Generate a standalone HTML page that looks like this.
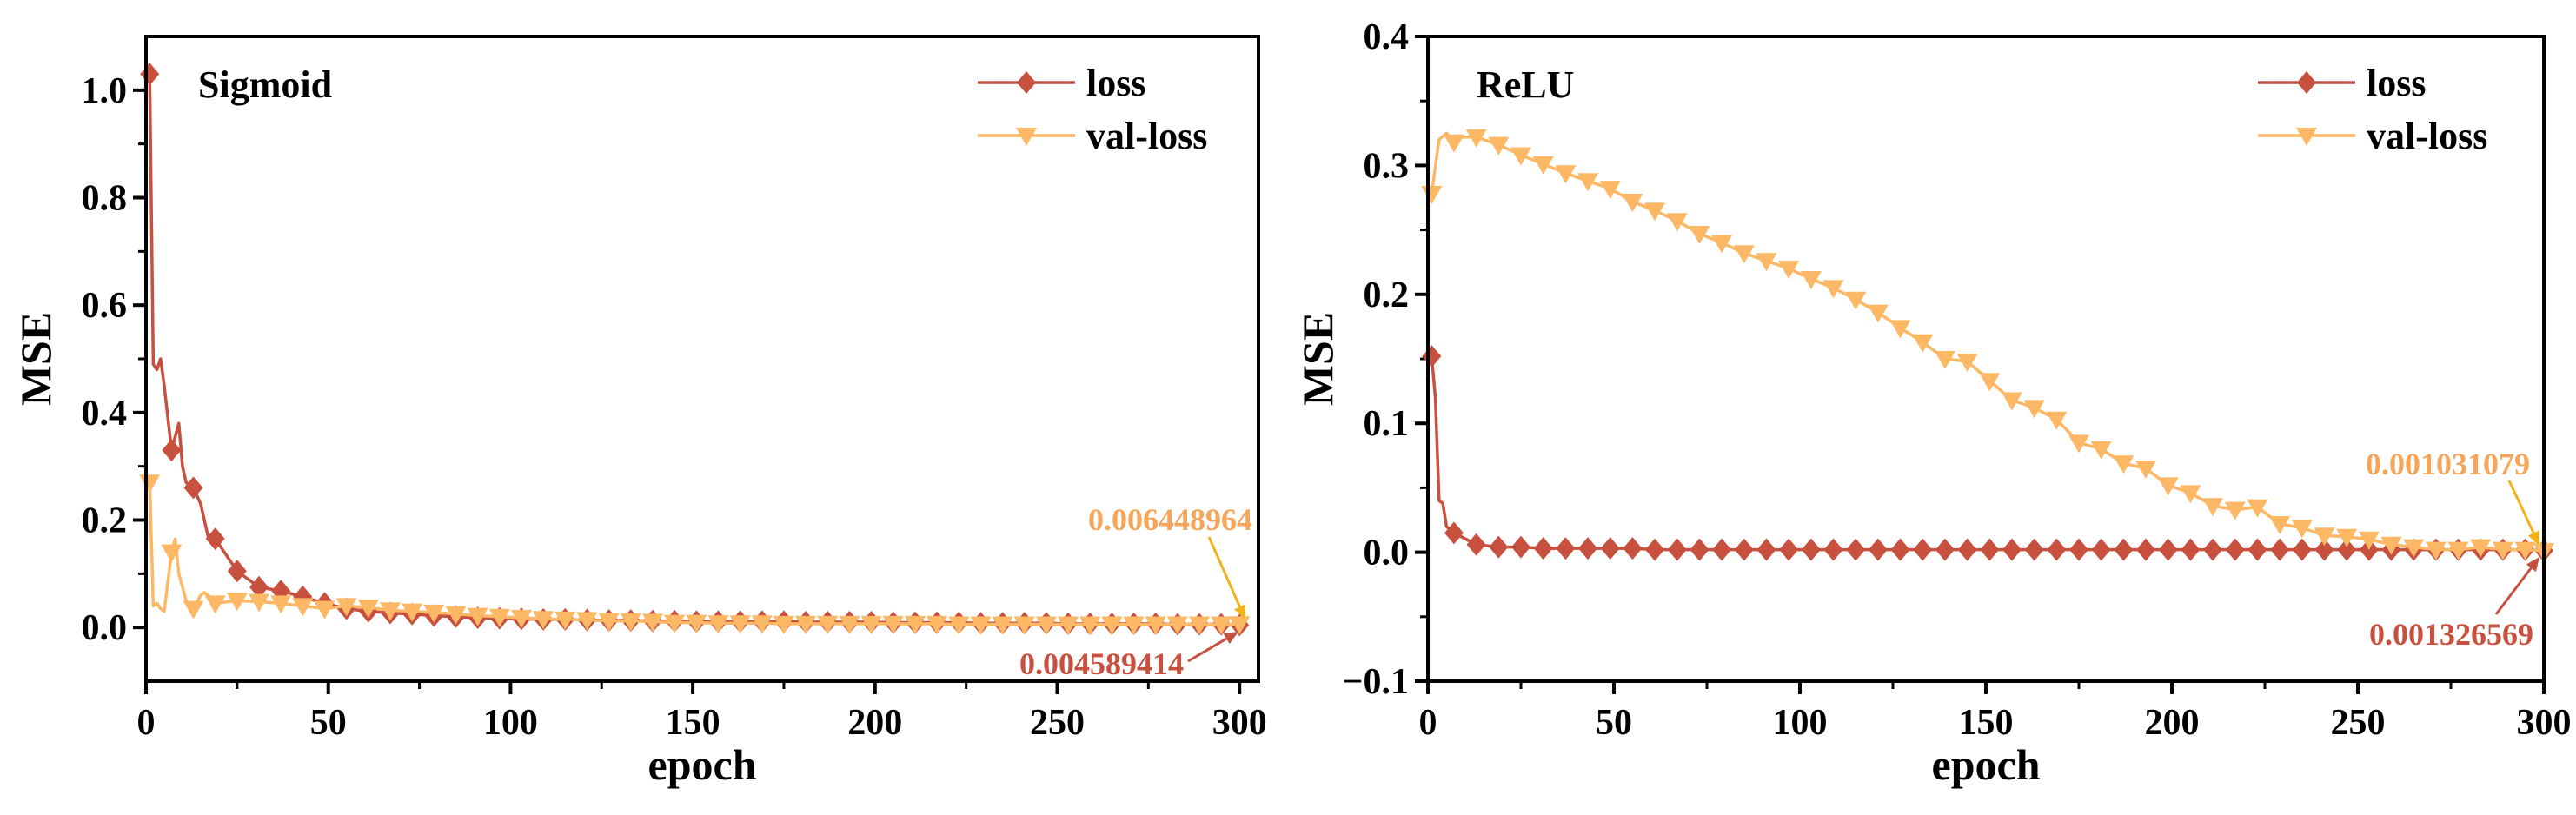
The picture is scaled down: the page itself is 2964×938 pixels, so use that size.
<!DOCTYPE html>
<html><head><meta charset="utf-8"><style>
html,body{margin:0;padding:0;background:#fff;}
svg{display:block;font-family:"Liberation Serif",serif;font-weight:bold;}
</style></head><body>
<svg id="chart" width="2964" height="938" viewBox="0 0 2964 938" xmlns="http://www.w3.org/2000/svg"></svg>
<script>
const sigLossEpochs=[1,2,3,4,5,7,9,10,11,13,15,17,19,25,31,37,43,49,55,61,67,73,79,85,91,97,103,109,115,121,127,133,139,145,151,157,163,169,175,181,187,193,199,205,211,217,223,229,235,241,247,253,259,265,271,277,283,289,295,300];
const sigLossValues=[1.03,0.49,0.48,0.50,0.45,0.33,0.38,0.30,0.27,0.26,0.23,0.17,0.165,0.105,0.075,0.068,0.057,0.045,0.035,0.030,0.027,0.025,0.022,0.020,0.018,0.017,0.016,0.015,0.015,0.014,0.013,0.013,0.012,0.012,0.011,0.011,0.011,0.011,0.011,0.010,0.010,0.010,0.010,0.009,0.009,0.009,0.009,0.008,0.008,0.008,0.008,0.007,0.007,0.007,0.007,0.007,0.006,0.006,0.006,0.0046];
const sigValEpochs=[1,2,3,4,5,7,8,9,11,13,15,16,17,19,25,31,37,43,49,55,61,67,73,79,85,91,97,103,109,115,121,127,133,139,145,151,157,163,169,175,181,187,193,199,205,211,217,223,229,235,241,247,253,259,265,271,277,283,289,295,300];
const sigValValues=[0.27,0.04,0.045,0.035,0.03,0.14,0.165,0.10,0.05,0.035,0.06,0.065,0.06,0.045,0.05,0.048,0.045,0.04,0.035,0.04,0.037,0.032,0.03,0.028,0.025,0.022,0.02,0.018,0.016,0.015,0.014,0.012,0.012,0.011,0.009,0.009,0.008,0.008,0.008,0.007,0.007,0.007,0.007,0.007,0.007,0.007,0.007,0.006,0.006,0.006,0.006,0.006,0.006,0.006,0.006,0.006,0.006,0.006,0.006,0.006,0.0064];
const reluLossEpochs=[1,2,3,4,5,7,13,19,25,31,37,43,49,55,61,67,73,79,85,91,97,103,109,115,121,127,133,139,145,151,157,163,169,175,181,187,193,199,205,211,217,223,229,235,241,247,253,259,265,271,277,283,289,295,300];
const reluLossValues=[0.152,0.12,0.04,0.038,0.02,0.015,0.006,0.004,0.004,0.003,0.003,0.003,0.003,0.003,0.002,0.002,0.002,0.002,0.002,0.002,0.002,0.002,0.002,0.002,0.002,0.002,0.002,0.002,0.002,0.002,0.002,0.002,0.002,0.002,0.002,0.002,0.002,0.002,0.002,0.002,0.002,0.002,0.002,0.002,0.002,0.002,0.002,0.002,0.002,0.002,0.002,0.002,0.002,0.002,0.0013];
const reluValEpochs=[1,3,5,7,9,13,19,25,31,37,43,49,55,61,67,73,79,85,91,97,103,109,115,121,127,133,139,145,151,157,163,169,175,181,187,193,199,205,211,217,223,229,235,241,247,253,259,265,271,277,283,289,295,300];
const reluValValues=[0.278,0.32,0.325,0.318,0.322,0.322,0.316,0.308,0.301,0.294,0.288,0.282,0.272,0.265,0.257,0.247,0.240,0.232,0.226,0.220,0.212,0.205,0.196,0.186,0.174,0.163,0.150,0.148,0.133,0.118,0.112,0.103,0.085,0.080,0.069,0.065,0.052,0.046,0.036,0.033,0.035,0.022,0.019,0.013,0.012,0.010,0.006,0.004,0.002,0.002,0.004,0.002,0.002,0.001];
const xTicks=[0,50,100,150,200,250,300];
const sigYTicks=[0.0,0.2,0.4,0.6,0.8,1.0];
const reluYTicks=[-0.1,0.0,0.1,0.2,0.3,0.4];

const NS='http://www.w3.org/2000/svg';
const svg=document.getElementById('chart');
const RED='#C8503E', ORG='#FDB866';
function el(tag,attrs,parent,text){const e=document.createElementNS(NS,tag);for(const k in attrs)e.setAttribute(k,attrs[k]);if(text!==undefined)e.textContent=text;(parent||svg).appendChild(e);return e;}

function panel(cfg){
  const g=el('g',{});
  
  
  const L=cfg.left,R=cfg.right,T=42,B=784;
  const sx=v=>L+(v-cfg.xmin)/(cfg.xmax-cfg.xmin)*(R-L);
  const sy=v=>B-(v-cfg.ymin)/(cfg.ymax-cfg.ymin)*(B-T);
  xTicks.forEach(t=>{const x=sx(t);
    const tk=el('line',{x1:x,y1:B,x2:x,y2:B+15,stroke:'#000','stroke-width':4},g);
    
    const lb=el('text',{x:x,y:845,'font-size':42,'text-anchor':'middle'},g,String(t));
    
  });
  for(let t=25;t<300;t+=50){const x=sx(t);const m=el('line',{x1:x,y1:B,x2:x,y2:B+9,stroke:'#000','stroke-width':3},g);}
  cfg.yTicks.forEach((t,i)=>{const y=sy(t);
    const tk=el('line',{x1:L,y1:y,x2:L-15,y2:y,stroke:'#000','stroke-width':4},g);
    
    const lb=el('text',{x:L-22,y:y+14,'font-size':42,'text-anchor':'end'},g,(t<0?'\u2212':'')+Math.abs(t).toFixed(1));
    
    if(i<cfg.yTicks.length-1){const ym=sy((t+cfg.yTicks[i+1])/2);const m=el('line',{x1:L,y1:ym,x2:L-9,y2:ym,stroke:'#000','stroke-width':3},g);}
  });
  const xt=el('text',{x:(L+R)/2,y:897,'font-size':50,'text-anchor':'middle'},g,'epoch');
  
  const yt=el('text',{x:0,y:0,'font-size':50,'text-anchor':'middle',transform:`translate(${L-110},${(T+B)/2}) rotate(-90)`},g,'MSE');
  
  function series(ex,vals,color,marker,nm){
    const sg=el('g',{},g);
    const pl=el('polyline',{points:ex.map((e,i)=>sx(e)+','+sy(vals[i])).join(' '),fill:'none',stroke:color,'stroke-width':3.5,'stroke-linejoin':'round'},sg);
    
    ex.forEach((e,i)=>{if(e%6!==1&&e!==300)return;const x=sx(e),y=sy(vals[i]);
      const p=marker==='d'?el('polygon',{points:`${x},${y-13} ${x+11},${y} ${x},${y+13} ${x-11},${y}`,fill:color},sg):el('polygon',{points:`${x-12},${y-9} ${x+12},${y-9} ${x},${y+12}`,fill:color},sg);
      });
  }
  series(cfg.lossE,cfg.lossV,RED,'d','loss-series');
  series(cfg.valE,cfg.valV,ORG,'t','val-loss-series');
  const fr=el('rect',{x:L,y:T,width:R-L,height:B-T,fill:'none',stroke:'#000','stroke-width':4},g);
  
  const ti=el('text',{x:cfg.titleX,y:112,'font-size':44},g,cfg.title);
  
  const lx=cfg.legX;
  const lg=el('g',{},g);
  const l1=el('g',{},lg);
  el('line',{x1:lx,y1:95,x2:lx+112,y2:95,stroke:RED,'stroke-width':3.5},l1);
  el('polygon',{points:`${lx+56},82 ${lx+67},95 ${lx+56},108 ${lx+45},95`,fill:RED},l1);
  el('text',{x:lx+125,y:110,'font-size':44},l1,'loss');
  const l2=el('g',{},lg);
  el('line',{x1:lx,y1:156,x2:lx+112,y2:156,stroke:ORG,'stroke-width':3.5},l2);
  el('polygon',{points:`${lx+44},147 ${lx+68},147 ${lx+56},168`,fill:ORG},l2);
  el('text',{x:lx+125,y:171,'font-size':44},l2,'val-loss');
  cfg.ann.forEach(a=>{
    const ag=el('g',{},g);
    el('text',{x:a.tx,y:a.ty,'font-size':36,fill:a.tc,'text-anchor':'end'},ag,a.text);
    const dx=a.x2-a.x1,dy=a.y2-a.y1,len=Math.hypot(dx,dy),ux=dx/len,uy=dy/len;
    const bx=a.x2-ux*16,by=a.y2-uy*16;
    el('line',{x1:a.x1,y1:a.y1,x2:bx,y2:by,stroke:a.ac,'stroke-width':3},ag);
    el('polygon',{points:`${a.x2},${a.y2} ${bx-uy*7},${by+ux*7} ${bx+uy*7},${by-ux*7}`,fill:a.ac},ag);
  });
}
panel({name:'sigmoid-panel',left:168,right:1448,xmin:0,xmax:305.2,ymin:-0.1,ymax:1.1,yTicks:sigYTicks,
  lossE:sigLossEpochs,lossV:sigLossValues,valE:sigValEpochs,valV:sigValValues,title:'Sigmoid',titleX:228,legX:1125,
  ann:[{name:'val-loss-annotation',text:'0.006448964',tx:1441,ty:610,tc:'#F5A65B',ac:'#F2B21A',x1:1391,y1:618,x2:1433,y2:713},
       {name:'loss-annotation',text:'0.004589414',tx:1362,ty:776,tc:'#C8503E',ac:'#C8503E',x1:1367,y1:761,x2:1425,y2:727}]});
panel({name:'relu-panel',left:1643,right:2927,xmin:0,xmax:300,ymin:-0.1,ymax:0.4,yTicks:reluYTicks,
  lossE:reluLossEpochs,lossV:reluLossValues,valE:reluValEpochs,valV:reluValValues,title:'ReLU',titleX:1699,legX:2598,
  ann:[{name:'val-loss-annotation',text:'0.001031079',tx:2911,ty:546,tc:'#F5A65B',ac:'#F2B21A',x1:2887,y1:553,x2:2922,y2:628},
       {name:'loss-annotation',text:'0.001326569',tx:2915,ty:742,tc:'#C8503E',ac:'#C8503E',x1:2872,y1:707,x2:2922,y2:641}]});
</script>
</body></html>
